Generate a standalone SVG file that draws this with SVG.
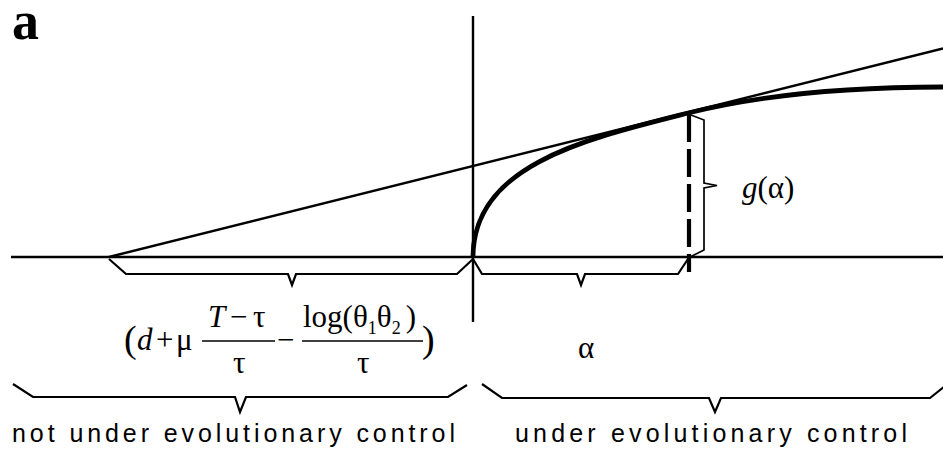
<svg xmlns="http://www.w3.org/2000/svg" width="943" height="459" viewBox="0 0 943 459">
<style>
.ln{stroke:#000;stroke-width:2.4;fill:none}
.br{stroke:#000;stroke-width:2.2;fill:none;stroke-linejoin:miter}
.m{font-family:"Liberation Serif","Times New Roman",serif;font-size:31px;fill:#000}
.i{font-style:italic}
.s{font-size:18px}
.p{font-size:38px}
.lab{font-family:"Liberation Sans",Arial,sans-serif;font-size:25px;fill:#000}
</style>
<rect width="943" height="459" fill="#fff"/>
<g id="panel-label"><text x="12" y="39" style="font-family:'Liberation Serif','Times New Roman',serif;font-weight:bold;font-size:54px">a</text></g>
<g id="axes">
<line class="ln" x1="11" y1="257" x2="943" y2="257"/>
<line class="ln" x1="473" y1="16" x2="473" y2="322"/>
</g>
<g id="connectors">
<line class="ln" x1="109" y1="257" x2="943" y2="48.5"/>
<path d="M473,257 C473,165 585,139 688,113 C760,95 850,87 943,87" style="stroke:#000;stroke-width:4.8;fill:none"/>
<line x1="689" y1="114" x2="689" y2="272" style="stroke:#000;stroke-width:4.2;stroke-dasharray:28 7"/>
</g>
<g id="braces">
<path class="br" d="M109,259 L126,274 L288,274 L292,285 L296,274 L457,274 L473,259"/>
<path class="br" d="M473,259 L482,274 L577,274 L581,285 L585,274 L678,274 L688,259"/>
<path class="br" style="stroke-width:1.7" d="M691,115 L704,120 L704,183 L717,185.5 L704,188 L704,250 L690,257"/>
<path class="br" d="M13,384 L33,397 L235,397 L240,412 L246,397 L448,397 L467,385"/>
<path class="br" d="M482,384 L502,398 L709,398 L715,412 L721,398 L930,398 L945,386"/>
</g>
<g id="formula">
<text class="m" y="350"><tspan class="p" x="124" y="352">(</tspan><tspan class="i" x="137" y="350">d</tspan><tspan x="156">+</tspan><tspan x="176">μ</tspan></text>
<line x1="202" y1="341" x2="275" y2="341" style="stroke:#000;stroke-width:1.5"/>
<text class="m" y="327"><tspan class="i" x="208">T</tspan><tspan x="230">−</tspan><tspan x="253">τ</tspan></text>
<text class="m" x="233" y="373">τ</text>
<text class="m" x="277" y="350">−</text>
<line x1="302" y1="341" x2="423" y2="341" style="stroke:#000;stroke-width:1.5"/>
<text class="m" x="303" y="327">log(θ<tspan class="s" dy="7">1</tspan><tspan dy="-7">θ</tspan><tspan class="s" dy="7">2</tspan><tspan dy="-7" dx="5">)</tspan></text>
<text class="m" x="357" y="373">τ</text>
<text class="m p" x="422" y="352">)</text>
</g>
<g id="alpha-label"><text class="m" x="578" y="358">α</text></g>
<g id="g-label"><text class="m" x="742" y="198"><tspan class="i">g</tspan>(α)</text></g>
<g id="labels">
<text class="lab" x="12" y="442" textLength="443" lengthAdjust="spacing">not under evolutionary control</text>
<text class="lab" x="515" y="442" textLength="392" lengthAdjust="spacing">under evolutionary control</text>
</g>
</svg>
